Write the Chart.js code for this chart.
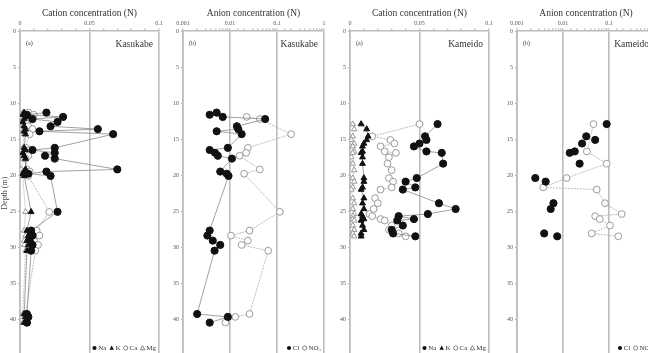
<!DOCTYPE html>
<html>
<head>
<meta charset="utf-8">
<script src="https://cdn.jsdelivr.net/npm/chart.js@4.4.1/dist/chart.umd.min.js"></script>
<style>
  html, body { margin: 0; padding: 0; background: #fff; }
  body { width: 648px; height: 353px; overflow: hidden; position: relative; }
  canvas { position: absolute; top: 0; }
</style>
</head>
<body>
<canvas id="p1" width="165" height="362" style="left:0px"></canvas>
<canvas id="p2" width="165" height="362" style="left:165px"></canvas>
<canvas id="p3" width="163" height="362" style="left:332px"></canvas>
<canvas id="p4" width="162" height="362" style="left:499px"></canvas>
<script>
// Kasukabe samples (depth in m, concentrations in N)
const kasuDepth = [11.3, 11.6, 11.9, 12.2, 12.6, 13.2, 13.6, 13.9, 14.3, 16.2, 16.5, 16.9, 17.3, 17.7, 19.2, 19.5, 19.8, 20.1, 25.1, 27.7, 28.4, 29.1, 29.7, 30.5, 39.3, 39.7, 40.5];
const kasuNa = [0.019, 0.005, 0.031, 0.009, 0.027, 0.022, 0.056, 0.014, 0.067, 0.025, 0.009, 0.025, 0.018, 0.025, 0.070, 0.019, 0.006, 0.022, 0.027, 0.008, 0.009, 0.007, 0.009, 0.008, 0.005, 0.006, 0.005];
const kasuK = [0.003, 0.002, 0.004, 0.003, 0.002, 0.003, 0.004, 0.003, 0.004, 0.003, 0.004, 0.002, 0.003, 0.004, 0.004, 0.003, 0.002, 0.003, 0.008, 0.005, 0.006, 0.005, 0.006, 0.005, 0.003, 0.004, 0.003];
const kasuCa = [0.006, 0.010, 0.005, 0.008, 0.004, 0.006, 0.009, 0.005, 0.007, 0.004, 0.007, 0.005, 0.006, 0.004, 0.005, 0.007, 0.004, 0.006, 0.021, 0.012, 0.014, 0.010, 0.013, 0.011, 0.004, 0.006, 0.005];
const kasuMg = [0.002, 0.003, 0.001, 0.002, 0.003, 0.002, 0.001, 0.002, 0.003, 0.002, 0.001, 0.003, 0.002, 0.002, 0.001, 0.002, 0.003, 0.002, 0.004, 0.003, 0.004, 0.003, 0.003, 0.004, 0.002, 0.003, 0.002];
const kasuCl = [0.0052, 0.0037, 0.0070, 0.056, null, 0.014, 0.015, 0.0052, 0.0177, 0.009, 0.0037, 0.0048, 0.0055, 0.011, null, 0.0062, 0.0085, 0.0093, null, 0.0037, 0.0033, 0.0043, 0.0062, 0.0047, 0.002, 0.009, 0.0037];
const kasuNO3 = [null, null, 0.0226, 0.043, null, null, null, null, 0.20, 0.024, null, 0.022, 0.016, null, 0.043, null, 0.020, null, 0.115, 0.026, 0.0105, 0.024, 0.0177, 0.065, 0.026, 0.013, 0.008];

// Kameido samples
const kameDepth = [12.9, 13.6, 14.6, 15.1, 15.6, 16.0, 16.7, 16.9, 17.5, 18.4, 19.3, 20.4, 20.9, 21.7, 22.0, 23.2, 23.9, 24.7, 25.4, 25.7, 26.1, 26.3, 27.0, 27.6, 28.1, 28.5];
const kameNa = [0.063, null, 0.054, 0.055, 0.050, 0.046, 0.055, 0.066, null, 0.067, null, 0.048, 0.040, 0.047, 0.038, null, 0.064, 0.076, 0.056, 0.035, 0.046, 0.034, 0.038, 0.030, 0.031, 0.047];
const kameK = [0.008, 0.012, 0.013, 0.012, 0.010, 0.009, 0.009, 0.008, 0.009, 0.009, null, 0.010, 0.010, 0.009, 0.008, 0.010, 0.009, 0.010, 0.008, 0.009, 0.010, 0.008, 0.009, 0.010, 0.008, 0.008];
const kameCa = [0.050, null, 0.016, 0.029, 0.032, 0.022, 0.025, 0.033, 0.028, 0.027, 0.030, 0.028, 0.031, 0.030, 0.022, 0.018, 0.020, 0.017, 0.014, 0.016, 0.022, 0.025, 0.030, 0.028, 0.035, 0.040];
const kameMg = [0.002, 0.003, 0.002, 0.001, 0.003, 0.002, 0.003, 0.002, 0.001, 0.002, 0.003, 0.002, 0.003, 0.002, 0.001, 0.002, 0.003, 0.002, 0.003, 0.002, 0.002, 0.003, 0.002, 0.003, 0.002, 0.003];
const kameCl = [0.089, null, 0.032, 0.050, 0.026, null, 0.018, 0.014, null, 0.023, null, 0.0025, 0.0042, null, null, null, 0.0062, 0.0054, null, null, null, null, null, null, 0.0039, 0.0075];
const kameNO3 = [0.046, null, null, null, null, null, 0.033, null, null, 0.089, null, 0.012, null, 0.0037, 0.054, null, 0.082, null, 0.189, 0.050, 0.063, null, 0.105, null, 0.042, 0.159];

const depthTicks = [0, 5, 10, 15, 20, 25, 30, 35, 40, 45];
const cationTicks = [0, 0.05, 0.1];
const anionTicks = [0.001, 0.01, 0.1, 1];

Chart.defaults.font.family = '"Liberation Serif", "DejaVu Serif", serif';
Chart.defaults.color = '#444';
Chart.defaults.animation = false;

const GRID = '#bdbdbd';

const styles = {
  Na:  { pointStyle: 'circle',   pointRadius: 3.6, pointBackgroundColor: '#111', pointBorderColor: '#111', borderColor: '#8a8a8a', borderDash: [] },
  K:   { pointStyle: 'triangle', pointRadius: 3.4, pointBackgroundColor: '#111', pointBorderColor: '#111', borderColor: '#8a8a8a', borderDash: [] },
  Ca:  { pointStyle: 'circle',   pointRadius: 3.4, pointBackgroundColor: '#fff', pointBorderColor: '#9a9a9a', borderColor: '#ababab', borderDash: [2, 1] },
  Mg:  { pointStyle: 'triangle', pointRadius: 3.2, pointBackgroundColor: '#fff', pointBorderColor: '#9a9a9a', borderColor: '#b5b5b5', borderDash: [2, 1] },
  Cl:  { pointStyle: 'circle',   pointRadius: 3.6, pointBackgroundColor: '#111', pointBorderColor: '#111', borderColor: '#8a8a8a', borderDash: [] },
  NO3: { pointStyle: 'circle',   pointRadius: 3.4, pointBackgroundColor: '#fff', pointBorderColor: '#9a9a9a', borderColor: '#ababab', borderDash: [2, 1] }
};

function series(name, depths, vals, showLine = true) {
  const pts = depths.map((d, i) => vals[i] == null ? null : { x: vals[i], y: d }).filter(p => p);
  return Object.assign({ label: name, data: pts, showLine: showLine, borderWidth: 0.8, pointBorderWidth: 1 }, styles[name]);
}

function isMajor(v, list) {
  return list.some(t => Math.abs(v - t) < t * 1e-6 + 1e-9);
}

// tags, site names and the small legend drawn inside each panel
const panelText = {
  id: 'panelText',
  afterDraw(chart, args, opts) {
    const { ctx, chartArea: a } = chart;
    ctx.save();
    ctx.fillStyle = '#333';
    ctx.textBaseline = 'middle';
    ctx.font = '6px "Liberation Serif"';
    ctx.textAlign = 'left';
    ctx.fillText(opts.tag, a.left + 6, a.top + 12);
    ctx.font = '9.5px "Liberation Serif"';
    ctx.textAlign = 'right';
    ctx.fillText(opts.site, a.right - 6, a.top + 13);

    ctx.font = '7px "Liberation Serif"';
    ctx.textAlign = 'left';
    const y = 348;
    const widths = opts.legend.map(it => 6 + ctx.measureText(it.text).width);
    let x = a.right - 3 - widths.reduce((s, w) => s + w, 0) - 3 * (widths.length - 1);
    opts.legend.forEach((it, i) => {
      const st = styles[it.key];
      const filled = st.pointBackgroundColor !== '#fff';
      ctx.beginPath();
      if (st.pointStyle === 'circle') {
        ctx.arc(x + 2.2, y, 2.1, 0, Math.PI * 2);
      } else {
        ctx.moveTo(x + 2.2, y - 2.4);
        ctx.lineTo(x + 4.5, y + 1.8);
        ctx.lineTo(x, y + 1.8);
        ctx.closePath();
      }
      if (filled) { ctx.fillStyle = '#111'; ctx.fill(); }
      else { ctx.strokeStyle = '#666'; ctx.lineWidth = 0.8; ctx.stroke(); }
      ctx.fillStyle = '#333';
      ctx.fillText(it.text, x + 6, y + 0.5);
      x += widths[i] + 3;
    });
    ctx.restore();
  }
};

function panel(id, cfg) {
  const log = cfg.log;
  const xTicks = log ? anionTicks : cationTicks;
  return new Chart(document.getElementById(id).getContext('2d'), {
    type: 'scatter',
    data: { datasets: cfg.datasets },
    options: {
      responsive: false,
      layout: { padding: { left: 0, right: 6, top: 0, bottom: 7 } },
      plugins: {
        legend: { display: false },
        tooltip: { enabled: false },
        title: {
          display: true,
          text: cfg.title,
          fullSize: false,
          color: '#333',
          font: { size: 9.5, weight: 'normal' },
          padding: { top: 8, bottom: 0 }
        },
        panelText: { tag: cfg.tag, site: cfg.site, legend: cfg.legend }
      },
      scales: {
        x: {
          type: log ? 'logarithmic' : 'linear',
          position: 'top',
          min: log ? 0.001 : 0,
          max: log ? 1 : 0.1,
          afterFit: s => { s.height = 11.9; },
          ticks: {
            stepSize: log ? undefined : 0.01,
            autoSkip: false,
            maxRotation: 0,
            padding: 1,
            font: { size: 6 },
            color: '#555',
            callback: v => isMajor(v, xTicks) ? String(+v.toPrecision(3)) : ''
          },
          grid: {
            color: c => c.tick && isMajor(c.tick.value, xTicks) ? GRID : 'rgba(0,0,0,0)',
            lineWidth: 1.6,
            tickColor: '#9a9a9a',
            tickWidth: 0.8,
            tickLength: 3
          },
          border: { display: true, color: GRID, width: 1.6 }
        },
        y: {
          type: 'linear',
          reverse: true,
          min: 0,
          max: 45,
          afterFit: s => { s.width = cfg.yWidth; },
          title: {
            display: !!cfg.yTitle,
            text: cfg.yTitle || '',
            color: '#444',
            font: { size: 8 },
            padding: 0
          },
          ticks: {
            stepSize: 5,
            padding: 2,
            font: { size: 6 },
            color: '#555',
            callback: v => depthTicks.includes(v) ? String(v) : ''
          },
          grid: { drawOnChartArea: false, drawTicks: true, tickLength: 2, tickColor: '#9a9a9a', tickWidth: 0.8 },
          border: { display: true, color: GRID, width: 1.6 }
        }
      }
    },
    plugins: [panelText]
  });
}

const cationLegend = [
  { key: 'Na', text: 'Na' }, { key: 'K', text: 'K' }, { key: 'Ca', text: 'Ca' }, { key: 'Mg', text: 'Mg' }
];
const anionLegend = [{ key: 'Cl', text: 'Cl' }, { key: 'NO3', text: 'NO\u2083' }];

panel('p1', {
  log: false, yWidth: 20, yTitle: 'Depth (m)',
  title: 'Cation concentration (N)', tag: '(a)', site: 'Kasukabe', legend: cationLegend,
  datasets: [
    series('Na', kasuDepth, kasuNa),
    series('K', kasuDepth, kasuK),
    series('Ca', kasuDepth, kasuCa),
    series('Mg', kasuDepth, kasuMg)
  ]
});

panel('p2', {
  log: true, yWidth: 18,
  title: 'Anion concentration (N)', tag: '(b)', site: 'Kasukabe', legend: anionLegend,
  datasets: [
    series('Cl', kasuDepth, kasuCl),
    series('NO3', kasuDepth, kasuNO3)
  ]
});

panel('p3', {
  log: false, yWidth: 18,
  title: 'Cation concentration (N)', tag: '(a)', site: 'Kameido', legend: cationLegend,
  datasets: [
    series('Na', kameDepth, kameNa),
    series('K', kameDepth, kameK),
    series('Ca', kameDepth, kameCa),
    series('Mg', kameDepth, kameMg)
  ]
});

panel('p4', {
  log: true, yWidth: 18,
  title: 'Anion concentration (N)', tag: '(b)', site: 'Kameido', legend: anionLegend,
  datasets: [
    series('Cl', kameDepth, kameCl, false),
    series('NO3', kameDepth, kameNO3)
  ]
});
</script>
</body>
</html>
